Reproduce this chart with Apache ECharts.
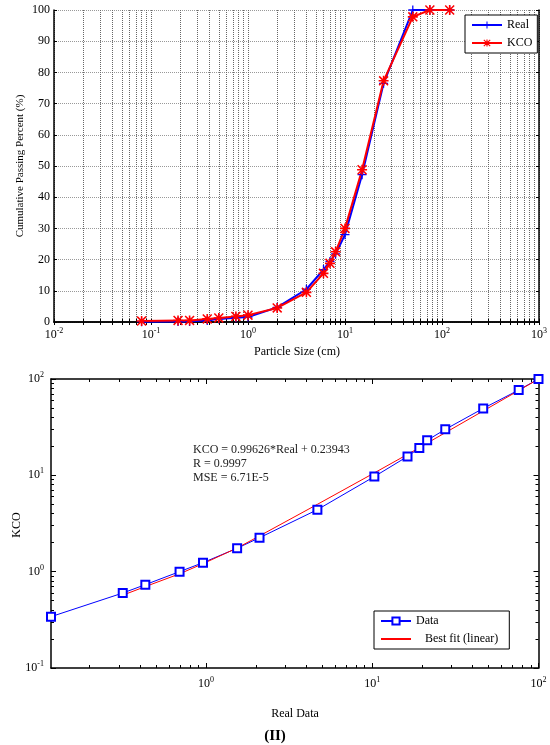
<!DOCTYPE html>
<html>
<head>
<meta charset="utf-8">
<script src="https://cdn.jsdelivr.net/npm/echarts@6/dist/echarts.min.js"></script>
<style>
  html, body { margin: 0; padding: 0; background: #fff; }
  #main { width: 550px; height: 745px; }
</style>
</head>
<body>
<div id="main"></div>
<script>
// top chart: particle size distribution
const sizes = [0.08, 0.19, 0.25, 0.38, 0.5, 0.75, 1, 2, 4, 6, 7, 8, 10, 15, 25, 50, 75, 120];
const realPassing = [0.1, 0.2, 0.2, 0.5, 1.0, 1.4, 1.6, 4.7, 10.5, 16.8, 19.4, 21.8, 28.0, 47.2, 76.5, 100, 100, 100];
const kcoPassing = [0.3, 0.5, 0.5, 1.0, 1.3, 1.8, 2.2, 4.5, 9.5, 15.6, 18.8, 22.5, 30.0, 48.8, 77.3, 97.8, 100, 100];

// bottom chart: KCO vs real (log-log)
const realData = [0.117, 0.316, 0.432, 0.694, 0.96, 1.54, 2.10, 4.68, 10.3, 16.3, 19.2, 21.4, 27.5, 46.5, 76, 100];
const kcoData = [0.341, 0.60, 0.733, 1.0, 1.24, 1.75, 2.25, 4.4, 9.7, 15.7, 19.2, 23.1, 30.0, 49.5, 76.8, 100];
const fitX = [0.316, 0.432, 0.694, 0.96, 1.54, 2.10, 4.68, 10.3, 16.3, 19.2, 21.4, 27.5, 46.5, 76, 100];
const fitY = [0.57, 0.70, 0.95, 1.21, 1.76, 2.35, 5.0, 10.6, 16.5, 19.3, 21.6, 27.7, 46.6, 75.9, 100];

const topDecades = [0.01, 0.1, 1, 10, 100, 1000];
const botDecadesX = [1, 10, 100];
const botDecadesY = [0.1, 1, 10, 100];

// tick positions 2..9 inside each decade
function minorTicks(from, to) {
  const out = [];
  for (let d = from; d < to; d *= 10) {
    for (let k = 2; k <= 9; k++) out.push(+(k * d).toPrecision(3));
  }
  return out;
}
const topTicks = topDecades.concat(minorTicks(0.01, 1000));
const botMinor = minorTicks(0.1, 100);

const FONT = 'Liberation Serif';
const supLabel = (v) => '{b|10}{s|' + Math.round(Math.log10(v)) + '}';
const supRich = {
  b: { fontFamily: FONT, fontSize: 12, color: '#000' },
  s: { fontFamily: FONT, fontSize: 8, color: '#000', padding: [0, 0, 8, 0] }
};
const blackLine = { show: true, lineStyle: { color: '#000', width: 1.5 } };

const plusPath = 'path://M4.3,0H5.7V4.3H10V5.7H5.7V10H4.3V5.7H0V4.3H4.3Z';
const starPath = 'path://M4.2,0H5.8V4.2H10V5.8H5.8V10H4.2V5.8H0V4.2H4.2Z' +
  'M1.1,0L10,8.9L8.9,10L0,1.1Z M8.9,0L10,1.1L1.1,10L0,8.9Z';

function logX(grid, pos, ticks, len, extra) {
  return Object.assign({
    type: 'log', logBase: 10, gridIndex: grid, position: pos,
    axisLine: blackLine,
    axisTick: { show: true, inside: true, length: len, customValues: ticks, lineStyle: { color: '#000' } },
    axisLabel: { show: false },
    splitLine: { show: false }
  }, extra);
}

const txt = (x, y, text, font, extra) => Object.assign({
  type: 'text', x: x, y: y,
  style: { text: text, font: font, fill: '#000', align: 'center', verticalAlign: 'middle', textAlign: 'center', textVerticalAlign: 'middle' }
}, extra);

const legendBase = {
  orient: 'vertical',
  itemWidth: 30, itemHeight: 9, itemGap: 6,
  padding: [4, 5, 4, 6],
  borderColor: '#000', borderWidth: 1, backgroundColor: '#fff',
  textStyle: { fontFamily: FONT, fontSize: 12, color: '#000' }
};

const myChart = echarts.init(document.getElementById('main'));
const option = {
  animation: false,
  backgroundColor: '#fff',
  grid: [
    { left: 54, top: 10, width: 486, height: 312 },
    { left: 51, top: 379, width: 487.5, height: 289 }
  ],
  xAxis: [
    // top chart
    logX(0, 'bottom', topTicks, 3, {
      min: 0.01, max: 1000,
      axisLabel: { show: true, customValues: topDecades, margin: 5, formatter: supLabel, rich: supRich },
      splitLine: { show: true, lineStyle: { color: '#666', type: 'dotted', width: 1 } }
    }),
    logX(0, 'top', topTicks, 3, { min: 0.01, max: 1000 }),
    // bottom chart
    logX(1, 'bottom', botDecadesX, 5, {
      min: realData[0], max: 100,
      axisLabel: { show: true, customValues: botDecadesX, margin: 8, formatter: supLabel, rich: supRich }
    }),
    logX(1, 'bottom', botMinor, 3, { min: realData[0], max: 100, axisLine: { show: false } }),
    logX(1, 'top', botDecadesX, 5, { min: realData[0], max: 100 }),
    logX(1, 'top', botMinor, 3, { min: realData[0], max: 100, axisLine: { show: false } })
  ],
  yAxis: [
    {
      type: 'value', gridIndex: 0, position: 'left', min: 0, max: 100, interval: 10,
      axisLine: blackLine,
      axisTick: { inside: true, length: 3, lineStyle: { color: '#000' } },
      axisLabel: { margin: 4, fontFamily: FONT, fontSize: 12, color: '#000' },
      splitLine: { show: true, lineStyle: { color: '#999', type: 'dotted', width: 1 } }
    },
    {
      type: 'value', gridIndex: 0, position: 'right', min: 0, max: 100, interval: 10,
      axisLine: blackLine,
      axisTick: { inside: true, length: 3, lineStyle: { color: '#000' } },
      axisLabel: { show: false }, splitLine: { show: false }
    },
    logX(1, 'left', botDecadesY, 5, {
      min: 0.1, max: 100,
      axisLabel: { show: true, customValues: botDecadesY, margin: 7, formatter: supLabel, rich: supRich }
    }),
    logX(1, 'left', botMinor, 3, { min: 0.1, max: 100, axisLine: { show: false } }),
    logX(1, 'right', botDecadesY, 5, { min: 0.1, max: 100 }),
    logX(1, 'right', botMinor, 3, { min: 0.1, max: 100, axisLine: { show: false } })
  ],
  legend: [
    Object.assign({}, legendBase, { left: 465, top: 15, data: ['Real', 'KCO'] }),
    Object.assign({}, legendBase, {
      left: 374, top: 611, padding: [4, 11, 4, 6],
      data: ['Data', { name: '   Best fit (linear)', itemStyle: { color: 'rgba(0,0,0,0)', borderWidth: 0 } }]
    })
  ],
  series: [
    {
      name: 'Real', type: 'line', xAxisIndex: 0, yAxisIndex: 0,
      data: sizes.map((x, i) => [x, realPassing[i]]),
      lineStyle: { color: '#0000ff', width: 2 },
      itemStyle: { color: '#0000ff' },
      symbol: plusPath, symbolSize: 9, showAllSymbol: true
    },
    {
      name: 'KCO', type: 'line', xAxisIndex: 0, yAxisIndex: 0,
      data: sizes.map((x, i) => [x, kcoPassing[i]]),
      lineStyle: { color: '#ff0000', width: 2 },
      itemStyle: { color: '#ff0000' },
      symbol: starPath, symbolSize: 10, showAllSymbol: true
    },
    {
      name: 'Data', type: 'line', xAxisIndex: 2, yAxisIndex: 2,
      data: realData.map((x, i) => [x, kcoData[i]]),
      lineStyle: { color: '#0000ff', width: 1 },
      itemStyle: { color: '#0000ff', borderWidth: 1 },
      symbol: 'emptyRect', symbolSize: 8, showAllSymbol: true
    },
    {
      name: '   Best fit (linear)', type: 'line', xAxisIndex: 2, yAxisIndex: 2,
      data: fitX.map((x, i) => [x, fitY[i]]),
      lineStyle: { color: '#ff0000', width: 1 },
      itemStyle: { color: '#ff0000' },
      symbol: 'none'
    }
  ],
  graphic: [
    txt(297, 352, 'Particle Size (cm)', '12px "Liberation Serif"'),
    txt(20, 166, 'Cumulative Passing Percent (%)', '11px "Liberation Serif"', { rotation: Math.PI / 2 }),
    txt(17, 525, 'KCO', '12px "Liberation Serif"', { rotation: Math.PI / 2 }),
    txt(295, 714, 'Real Data', '12px "Liberation Serif"'),
    txt(275, 736, '(II)', 'bold 15px "Liberation Serif"'),
    { type: 'text', x: 193, y: 443, style: { text: 'KCO = 0.99626*Real + 0.23943\nR = 0.9997\nMSE = 6.71E-5', font: '12px "Liberation Serif"', lineHeight: 14, fill: '#222', align: 'left', verticalAlign: 'top', textAlign: 'left', textVerticalAlign: 'top' } }
  ]
};
myChart.setOption(option);
</script>
</body>
</html>
